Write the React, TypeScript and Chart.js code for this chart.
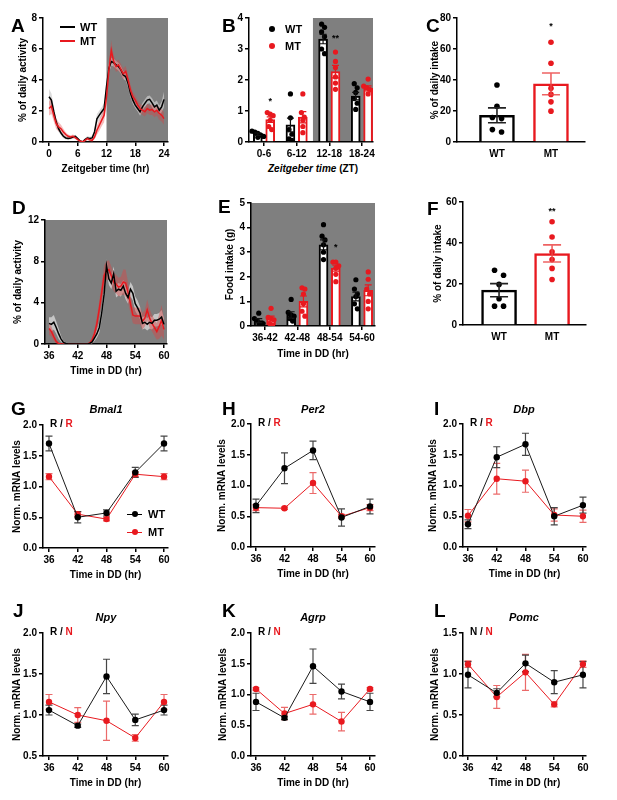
import React, { useEffect, useRef } from "react";
import { Chart, registerables } from "chart.js";
Chart.register(...registerables);

const FONT = "'Liberation Sans', Arial, Helvetica, sans-serif";
const RED = "#e8191f";
const BG = "#7f7f7f";

// ---------------- DATA ----------------
// Panel A: % of daily activity vs Zeitgeber time
const zt = [0,0.5,1,1.5,2,2.5,3,3.5,4,4.5,5,5.5,6,6.5,7,7.5,8,8.5,9,9.5,10,10.5,11,11.5,12,12.5,13,13.5,14,14.5,15,15.5,16,16.5,17,17.5,18,18.5,19,19.5,20,20.5,21,21.5,22,22.5,23,23.5,24];
const actWT = [2.92,2.7,1.95,1.3,0.86,0.58,0.37,0.26,0.22,0.26,0.32,0.37,0.22,0.06,0,0.15,0.26,0.22,0.26,0.65,1.5,1.73,1.95,2.16,3.57,4.76,5.19,5.12,4.97,4.86,4.65,4.32,4.22,3.78,3.14,2.7,2.38,2.16,1.95,2.27,2.49,2.7,2.75,2.53,2.27,2.38,2.05,2.27,2.75];
const actWTsem = [0.5,0.45,0.35,0.25,0.2,0.15,0.12,0.1,0.1,0.1,0.1,0.1,0.1,0.08,0.08,0.1,0.12,0.12,0.15,0.2,0.3,0.3,0.3,0.35,0.45,0.35,0.25,0.25,0.25,0.25,0.25,0.25,0.25,0.25,0.25,0.25,0.2,0.2,0.25,0.25,0.25,0.25,0.25,0.3,0.3,0.3,0.3,0.35,0.5];
const actMT = [2.16,2.31,1.73,1.19,0.97,0.86,0.65,0.48,0.37,0.32,0.37,0.28,0.15,0.06,0,0.1,0.22,0.15,0.1,0.32,0.76,1.08,1.41,1.73,2.92,4.65,5.9,5.19,4.86,4.97,4.69,4.4,4.55,4.0,3.35,2.92,2.7,2.38,2.16,2.05,1.95,2.16,2.05,2.1,1.95,2.05,1.84,1.73,1.51];
const actMTsem = [0.45,0.5,0.4,0.35,0.3,0.25,0.2,0.15,0.12,0.12,0.12,0.1,0.08,0.05,0.05,0.08,0.1,0.1,0.1,0.15,0.3,0.35,0.4,0.45,0.5,0.6,0.65,0.4,0.35,0.35,0.35,0.35,0.35,0.35,0.35,0.3,0.3,0.3,0.3,0.3,0.3,0.3,0.3,0.35,0.35,0.35,0.4,0.4,0.4];

// Panel B: binned activity
const ztBins = ["0-6", "6-12", "12-18", "18-24"];
const binWT = [0.25, 0.55, 3.32, 1.48];
const binWTsem = [0.04, 0.22, 0.15, 0.12];
const binMT = [0.72, 0.8, 2.27, 1.73];
const binMTsem = [0.09, 0.18, 0.2, 0.08];
const binWTdots = [[0.35,0.32,0.28,0.22,0.18,0.15],[1.55,0.78,0.4,0.25,0.1,0.05],[3.8,3.7,3.55,3.4,3.0,2.85],[1.88,1.75,1.6,1.4,1.25,1.05]];
const binMTdots = [[0.95,0.9,0.85,0.7,0.5,0.4],[1.55,0.95,0.8,0.7,0.5,0.3],[2.9,2.6,2.4,2.1,1.9,1.7],[2.03,1.8,1.75,1.7,1.65,1.55]];
const binStars = [{ bin: 0, y: 1.3, t: "*" }, { bin: 2, y: 3.35, t: "**" }];

// Panels C & F: % of daily intake
const groups = ["WT", "MT"];
const cMean = [17.2, 37.5];
const cSem = [4.8, 7.0];
const cDots = [[36.8,23.1,15.1,15.8,6.5,8.0],[64.4,50.8,34.6,30.7,25.9,19.9]];
const cStar = { y: 74.6, t: "*" };
const fMean = [17.0, 34.9];
const fSem = [3.2, 4.2];
const fDots = [[24.3,26.7,19.8,12.8,9.2,9.2],[50.4,42.9,35.7,31.9,27.6,22.2]];
const fStar = { y: 55.6, t: "**" };

// Panel D: activity in DD
const dd = [36,36.5,37,37.5,38,38.5,39,39.5,40,40.5,41,41.5,42,42.5,43,43.5,44,44.5,45,45.5,46,46.5,47,47.5,48,48.5,49,49.5,50,50.5,51,51.5,52,52.5,53,53.5,54,54.5,55,55.5,56,56.5,57,57.5,58,58.5,59,59.5,60];
const ddWT = [2.0,1.9,2.1,1.6,1.0,0.5,0.15,0.05,0,0,0,0,0,0,0,0,0,0.05,0.2,0.6,1.0,1.6,3.0,4.8,7.6,6.3,5.9,6.8,5.1,5.3,5.2,5.6,4.9,4.5,5.3,4.9,3.9,3.5,3.0,2.0,2.1,1.9,2.1,2.0,2.3,2.3,2.4,2.6,1.9];
const ddWTsem = [0.6,0.7,0.7,0.6,0.5,0.3,0.15,0.05,0,0,0,0,0,0,0,0,0,0.05,0.15,0.3,0.4,0.5,0.6,0.7,0.6,0.6,0.6,0.7,0.6,0.6,0.6,0.6,0.6,0.6,0.7,0.7,0.7,0.7,0.6,0.6,0.6,0.6,0.6,0.6,0.6,0.6,0.6,0.7,0.6];
const ddMT = [1.5,1.2,0.7,0.25,0.05,0,0,0,0,0,0,0,0,0,0,0,0,0.1,0.4,1.0,2.0,3.4,5.0,6.6,7.1,7.2,6.6,6.0,5.8,5.5,5.6,6.0,5.9,5.0,3.9,2.8,2.7,2.7,2.7,2.2,2.5,3.3,2.5,2.0,1.6,1.2,1.7,2.3,1.4];
const ddMTsem = [0.6,0.5,0.4,0.2,0.05,0,0,0,0,0,0,0,0,0,0,0,0,0.1,0.3,0.5,0.7,0.8,0.9,1.0,0.9,0.9,0.9,0.9,0.9,0.9,0.9,1.2,1.3,1.0,0.9,0.8,0.8,0.8,0.8,0.8,0.8,1.0,0.9,0.8,0.8,0.8,1.2,1.5,1.0];

// Panel E: food intake in DD
const ddBins = ["36-42", "42-48", "48-54", "54-60"];
const foodWT = [0.22, 0.45, 3.3, 1.2];
const foodWTsem = [0.08, 0.13, 0.2, 0.18];
const foodMT = [0.3, 1.0, 2.35, 1.45];
const foodMTsem = [0.1, 0.22, 0.12, 0.22];
const foodWTdots = [[0.52,0.3,0.2,0.1,0.1,0.05],[1.08,0.55,0.45,0.4,0.3,0.2],[4.12,3.65,3.5,3.3,3.0,2.7],[1.88,1.5,1.3,1.2,0.9,0.7]];
const foodMTdots = [[0.72,0.35,0.3,0.25,0.1,0.05],[1.55,1.5,1.3,0.9,0.6,0.4],[2.6,2.6,2.45,2.35,2.1,1.8],[2.2,1.9,1.5,1.3,1.0,0.7]];
const foodStars = [{ bin: 2, y: 3.18, t: "*" }];

// Panels G-L: mRNA levels
const hrs = [36, 42, 48, 54, 60];
const bmalWT = [1.7, 0.5, 0.57, 1.23, 1.7];
const bmalWTse = [0.12, 0.09, 0.05, 0.08, 0.12];
const bmalMT = [1.16, 0.55, 0.47, 1.2, 1.16];
const bmalMTse = [0.05, 0.04, 0.03, 0.04, 0.05];
const per2WT = [0.67, 1.28, 1.57, 0.48, 0.66];
const per2WTse = [0.11, 0.25, 0.15, 0.14, 0.12];
const per2MT = [0.64, 0.63, 1.04, 0.5, 0.64];
const per2MTse = [0.05, 0.02, 0.17, 0.03, 0.05];
const dbpWT = [0.37, 1.46, 1.67, 0.5, 0.68];
const dbpWTse = [0.07, 0.17, 0.18, 0.14, 0.13];
const dbpMT = [0.51, 1.11, 1.07, 0.52, 0.5];
const dbpMTse = [0.1, 0.25, 0.18, 0.1, 0.1];
const npyWT = [1.06, 0.87, 1.47, 0.94, 1.06];
const npyWTse = [0.06, 0.02, 0.21, 0.07, 0.06];
const npyMT = [1.16, 1.0, 0.93, 0.72, 1.16];
const npyMTse = [0.09, 0.09, 0.24, 0.04, 0.09];
const agrpWT = [0.88, 0.62, 1.46, 1.05, 0.88];
const agrpWTse = [0.14, 0.03, 0.28, 0.12, 0.14];
const agrpMT = [1.09, 0.69, 0.84, 0.56, 1.09];
const agrpMTse = [0.02, 0.1, 0.16, 0.15, 0.02];
const pomcWT = [0.99, 0.77, 1.13, 0.9, 0.99];
const pomcWTse = [0.16, 0.05, 0.1, 0.14, 0.16];
const pomcMT = [1.12, 0.72, 1.02, 0.63, 1.12];
const pomcMTse = [0.04, 0.14, 0.22, 0.03, 0.04];

// ---------------- HELPERS ----------------
type Rect = { L: number; T: number; R: number; B: number };
const PT = 14;
const PR = 12;
const tickFont = { family: FONT, size: 10, weight: "bold" as const };
const titleFont = { family: FONT, size: 10, weight: "bold" as const };

function yScale(min: number, max: number, ticks: number[], title: string | null, yW: number, dec: number) {
  return {
    type: "linear", min, max, offset: false,
    grid: { display: true, drawOnChartArea: false, drawTicks: true, tickLength: 4, color: "#000", lineWidth: 1.5, tickWidth: 1.5 },
    border: { display: true, color: "#000", width: 1.5 },
    ticks: { color: "#000", font: tickFont, padding: 2, autoSkip: false, callback: (v: any) => Number(v).toFixed(dec) },
    afterBuildTicks: (s: any) => { s.ticks = ticks.map((v) => ({ value: v })); },
    afterFit: (s: any) => { s.width = yW; },
    title: title ? { display: true, text: title, color: "#000", font: titleFont, padding: { top: 0, bottom: 0 } } : { display: false },
  };
}

function xScale(min: number, max: number, ticks: number[], fmt: (v: number) => string, title: string | null, xH: number, drawTicks = true, pad = 2) {
  return {
    type: "linear", min, max, offset: false,
    grid: { display: true, drawOnChartArea: false, drawTicks, tickLength: 4, color: "#000", lineWidth: 1.5, tickWidth: 1.5, offset: false },
    border: { display: true, color: "#000", width: 1.5 },
    ticks: { color: "#000", font: tickFont, padding: pad, autoSkip: false, maxRotation: 0, minRotation: 0, callback: (v: any) => fmt(Number(v)) },
    afterBuildTicks: (s: any) => { s.ticks = ticks.map((v) => ({ value: v })); },
    afterFit: (s: any) => { s.height = xH; },
    title: title ? { display: true, text: title, color: "#000", font: titleFont, padding: { top: 0, bottom: 0 } } : { display: false },
  };
}

const bgPlugin = (from: number | null) => ({
  id: "bg",
  beforeDraw(chart: any) {
    const { ctx, chartArea: a, scales } = chart;
    const x0 = from == null ? a.left : scales.x.getPixelForValue(from);
    ctx.save();
    ctx.fillStyle = BG;
    ctx.fillRect(x0, a.top, a.right - x0, a.bottom - a.top);
    ctx.restore();
  },
});

type EB = { xs: number[]; m: number[]; s: number[]; color: string; cap: number; lw: number };
const errPlugin = (bars: EB[], hook: string) => ({
  id: "err",
  [hook](chart: any) {
    const { ctx, scales } = chart;
    const x = scales.x, y = scales.y;
    ctx.save();
    for (const b of bars) {
      ctx.strokeStyle = b.color;
      ctx.lineWidth = b.lw;
      b.xs.forEach((xv, i) => {
        const px = x.getPixelForValue(xv);
        const top = y.getPixelForValue(b.m[i] + b.s[i]);
        const bot = y.getPixelForValue(b.m[i] - b.s[i]);
        ctx.beginPath();
        ctx.moveTo(px, top); ctx.lineTo(px, bot);
        ctx.moveTo(px - b.cap, top); ctx.lineTo(px + b.cap, top);
        ctx.moveTo(px - b.cap, bot); ctx.lineTo(px + b.cap, bot);
        ctx.stroke();
      });
    }
    ctx.restore();
  },
});

const starPlugin = (stars: { x: number; y: number; t: string }[]) => ({
  id: "stars",
  afterDatasetsDraw(chart: any) {
    const { ctx, scales } = chart;
    ctx.save();
    ctx.fillStyle = "#000";
    ctx.font = `bold 9px ${FONT}`;
    ctx.textAlign = "center";
    ctx.textBaseline = "middle";
    stars.forEach((s) => ctx.fillText(s.t, scales.x.getPixelForValue(s.x), scales.y.getPixelForValue(s.y)));
    ctx.restore();
  },
});

function swarm(vals: number[], thr: number, step: number): number[] {
  const order = vals.map((_, i) => i).sort((a, b) => vals[b] - vals[a]);
  const off = vals.map(() => 0);
  let grp: number[] = [];
  const flush = () => {
    const n = grp.length;
    grp.forEach((id, k) => { off[id] = (k - (n - 1) / 2) * step; });
    grp = [];
  };
  for (const id of order) {
    if (grp.length && vals[grp[0]] - vals[id] > thr) flush();
    grp.push(id);
  }
  flush();
  return off;
}

function dotData(centers: number[], sets: number[][], thr: number, step: number) {
  const out: { x: number; y: number }[] = [];
  sets.forEach((g, i) => {
    const o = swarm(g, thr, step);
    g.forEach((v, k) => out.push({ x: centers[i] + o[k], y: v }));
  });
  return out;
}

function band(xs: number[], m: number[], s: number[], sign: number, fillColor: string | null, order: number) {
  return {
    type: "line",
    data: xs.map((x, i) => ({ x, y: m[i] + sign * s[i] })),
    borderWidth: 0, borderColor: "rgba(0,0,0,0)", pointRadius: 0,
    fill: fillColor ? "-1" : false, backgroundColor: fillColor || "rgba(0,0,0,0)", order,
  };
}
function trace(xs: number[], m: number[], color: string, order: number) {
  return { type: "line", data: xs.map((x, i) => ({ x, y: m[i] })), borderColor: color, borderWidth: 1.5, pointRadius: 0, fill: false, order };
}

function Panel({ r, yW, xH, make }: { r: Rect; yW: number; xH: number; make: (yW: number, xH: number) => any }) {
  const ref = useRef<HTMLCanvasElement | null>(null);
  const w = yW + (r.R - r.L) + PR;
  const h = PT + (r.B - r.T) + xH;
  useEffect(() => {
    if (!ref.current) return;
    const cfg = make(yW, xH);
    cfg.options = {
      ...(cfg.options || {}),
      animation: false, responsive: false, maintainAspectRatio: false,
      layout: { padding: { top: PT, right: PR, left: 0, bottom: 0 } },
      plugins: { legend: { display: false }, tooltip: { enabled: false }, title: { display: false } },
    };
    const chart = new Chart(ref.current, cfg);
    return () => chart.destroy();
  }, []);
  return <canvas ref={ref} width={w} height={h} style={{ position: "absolute", left: r.L - yW, top: r.T - PT, width: w, height: h }} />;
}

// ---------------- CHART BUILDERS ----------------
const OFF = 0.19;

function activityConfig(xs: number[], wt: number[], wtS: number[], mt: number[], mtS: number[], bgFrom: number | null,
  xr: [number, number], xt: number[], xTitle: string, yr: [number, number], yt: number[], wtBand: string, mtBand: string, redTop: boolean) {
  return (yW: number, xH: number) => ({
    type: "line",
    data: {
      datasets: [
        band(xs, wt, wtS, 1, null, 5), band(xs, wt, wtS, -1, wtBand, 5),
        band(xs, mt, mtS, 1, null, 4), band(xs, mt, mtS, -1, mtBand, 4),
        trace(xs, wt, "#000", redTop ? 1 : 0), trace(xs, mt, RED, redTop ? 0 : 1),
      ],
    },
    options: {
      scales: {
        x: xScale(xr[0], xr[1], xt, (v) => String(v), xTitle, xH),
        y: yScale(yr[0], yr[1], yt, "% of daily activity", yW, 0),
      },
    },
    plugins: [bgPlugin(bgFrom)],
  });
}

function binConfig(labels: string[], wt: number[], wtS: number[], mt: number[], mtS: number[], wtDots: number[][], mtDots: number[][],
  stars: { bin: number; y: number; t: string }[], bgFrom: number | null, xr: [number, number], yr: [number, number], yt: number[],
  yTitle: string | null, xTitle: string | null, thr: number) {
  return (yW: number, xH: number) => {
    const xs = labels.map((_, i) => i);
    const xw = xs.map((x) => x - OFF);
    const xm = xs.map((x) => x + OFF);
    return {
      type: "bar",
      data: {
        datasets: [
          { type: "scatter", data: dotData(xw, wtDots, thr, 0.09), pointRadius: 2.6, backgroundColor: "#000", pointBackgroundColor: "#000", pointBorderWidth: 0, order: 0 },
          { type: "scatter", data: dotData(xm, mtDots, thr, 0.09), pointRadius: 2.6, backgroundColor: RED, pointBackgroundColor: RED, pointBorderWidth: 0, order: 0 },
          { type: "bar", data: xw.map((x, i) => ({ x, y: wt[i] })), backgroundColor: "#fff", borderColor: "#000", borderWidth: 2, barThickness: 9, grouped: false, order: 1 },
          { type: "bar", data: xm.map((x, i) => ({ x, y: mt[i] })), backgroundColor: "#fff", borderColor: RED, borderWidth: 2, barThickness: 9, grouped: false, order: 1 },
        ],
      },
      options: {
        scales: {
          x: xScale(xr[0], xr[1], xs, (v) => labels[Math.round(v)] || "", xTitle, xH),
          y: yScale(yr[0], yr[1], yt, yTitle, yW, 0),
        },
      },
      plugins: [
        bgPlugin(bgFrom),
        errPlugin([
          { xs: xw, m: wt, s: wtS, color: "#111", cap: 3.5, lw: 1.2 },
          { xs: xm, m: mt, s: mtS, color: RED, cap: 3.5, lw: 1.2 },
        ], "afterDatasetsDraw"),
        starPlugin(stars.map((s) => ({ x: s.bin + OFF, y: s.y, t: s.t }))),
      ],
    };
  };
}

function intakeConfig(mean: number[], sem: number[], dots: number[][], star: { y: number; t: string }, xr: [number, number], yr: [number, number], yt: number[], thr: number) {
  return (yW: number, xH: number) => ({
    type: "bar",
    data: {
      datasets: [
        { type: "scatter", data: dotData([0], [dots[0]], thr, 0.17), pointRadius: 2.8, backgroundColor: "#000", pointBackgroundColor: "#000", pointBorderWidth: 0, order: 0 },
        { type: "scatter", data: dotData([1], [dots[1]], thr, 0.17), pointRadius: 2.8, backgroundColor: RED, pointBackgroundColor: RED, pointBorderWidth: 0, order: 0 },
        { type: "bar", data: [{ x: 0, y: mean[0] }], backgroundColor: "#fff", borderColor: "#000", borderWidth: 2.5, barThickness: 35, grouped: false, order: 1 },
        { type: "bar", data: [{ x: 1, y: mean[1] }], backgroundColor: "#fff", borderColor: RED, borderWidth: 2.5, barThickness: 35, grouped: false, order: 1 },
      ],
    },
    options: {
      scales: {
        x: xScale(xr[0], xr[1], [0, 1], (v) => groups[Math.round(v)] || "", null, xH, false, 6),
        y: yScale(yr[0], yr[1], yt, "% of daily intake", yW, 0),
      },
    },
    plugins: [
      errPlugin([
        { xs: [0], m: [mean[0]], s: [sem[0]], color: "#222", cap: 9, lw: 1.6 },
        { xs: [1], m: [mean[1]], s: [sem[1]], color: "rgba(235,70,70,0.85)", cap: 9, lw: 1.6 },
      ], "afterDatasetsDraw"),
      starPlugin([{ x: 1, y: star.y, t: star.t }]),
    ],
  });
}

function geneConfig(wt: number[], wtS: number[], mt: number[], mtS: number[], xr: [number, number], yr: [number, number], yt: number[]) {
  return (yW: number, xH: number) => ({
    type: "line",
    data: {
      datasets: [
        { data: hrs.map((h, i) => ({ x: h, y: wt[i] })), borderColor: "#1a1a1a", borderWidth: 1, pointRadius: 3.2, pointBackgroundColor: "#000", pointBorderWidth: 0, fill: false, order: 0 },
        { data: hrs.map((h, i) => ({ x: h, y: mt[i] })), borderColor: RED, borderWidth: 1, pointRadius: 3.2, pointBackgroundColor: RED, pointBorderWidth: 0, fill: false, order: 1 },
      ],
    },
    options: {
      scales: {
        x: xScale(xr[0], xr[1], hrs, (v) => String(v), "Time in DD (hr)", xH),
        y: yScale(yr[0], yr[1], yt, "Norm. mRNA levels", yW, 1),
      },
    },
    plugins: [
      errPlugin([
        { xs: hrs, m: mt, s: mtS, color: "rgba(232,80,80,0.85)", cap: 3.5, lw: 1.2 },
        { xs: hrs, m: wt, s: wtS, color: "rgba(60,60,60,0.95)", cap: 3.5, lw: 1.2 },
      ], "beforeDatasetsDraw"),
    ],
  });
}

// ---------------- LAYOUT ----------------
const rA: Rect = { L: 43, T: 18, R: 168, B: 142 };
const rB: Rect = { L: 249, T: 18, R: 373, B: 142 };
const rC: Rect = { L: 457, T: 18, R: 585, B: 142 };
const rD: Rect = { L: 45, T: 220, R: 167, B: 344 };
const rE: Rect = { L: 251, T: 203, R: 375, B: 326 };
const rF: Rect = { L: 463, T: 202, R: 586, B: 325 };
const rG: Rect = { L: 43, T: 425, R: 168, B: 548 };
const rH: Rect = { L: 251, T: 424, R: 375, B: 547 };
const rI: Rect = { L: 463, T: 424, R: 586, B: 547 };
const rJ: Rect = { L: 43, T: 633, R: 168, B: 756 };
const rK: Rect = { L: 251, T: 633, R: 375, B: 756 };
const rL: Rect = { L: 463, T: 633, R: 586, B: 756 };

const txtBase: React.CSSProperties = { position: "absolute", whiteSpace: "nowrap", lineHeight: 1, fontWeight: 700, fontFamily: FONT, color: "#000" };

function TL({ x, y, size = 10, children, style }: { x: number; y: number; size?: number; children: React.ReactNode; style?: React.CSSProperties }) {
  return <div style={{ ...txtBase, left: x, top: y, fontSize: size, transform: "translate(0,-50%)", ...style }}>{children}</div>;
}
function TC({ x, y, size = 10, children, style }: { x: number; y: number; size?: number; children: React.ReactNode; style?: React.CSSProperties }) {
  return <div style={{ ...txtBase, left: x, top: y, fontSize: size, transform: "translate(-50%,-50%)", ...style }}>{children}</div>;
}

function LegItem({ x, y, color, label, line, dot, len, gap }: { x: number; y: number; color: string; label: string; line: boolean; dot: boolean; len: number; gap: number }) {
  return (
    <>
      {line && <div style={{ position: "absolute", left: x, top: y - (dot ? 0.5 : 1), width: len, height: dot ? 1 : 2, background: color }} />}
      {dot && <div style={{ position: "absolute", left: x + len / 2 - 3, top: y - 3, width: 6, height: 6, borderRadius: 3, background: color }} />}
      <TL x={x + len + gap} y={y} size={11}>{label}</TL>
    </>
  );
}

function RN({ r, a, b }: { r: Rect; a: string; b: string }) {
  return <TL x={r.L + 7} y={r.T - 1} size={10}>{a} / <span style={{ color: RED }}>{b}</span></TL>;
}

export default function App() {
  return (
    <div style={{ position: "absolute", left: 0, top: 0, width: 617, height: 800, background: "#fff", overflow: "hidden", fontFamily: FONT }}>
      <Panel r={rA} yW={26} xH={33} make={activityConfig(zt, actWT, actWTsem, actMT, actMTsem, 12, [-1.25, 24.83], [0, 6, 12, 18, 24], "Zeitgeber time (hr)", [0, 8], [0, 2, 4, 6, 8], "rgba(205,205,205,0.7)", "rgba(225,60,60,0.35)", true)} />
      <Panel r={rB} yW={25} xH={20} make={binConfig(ztBins, binWT, binWTsem, binMT, binMTsem, binWTdots, binMTdots, binStars, 1.5, [-0.46, 3.34], [0, 4], [0, 1, 2, 3, 4], null, null, 0.18)} />
      <Panel r={rC} yW={28} xH={20} make={intakeConfig(cMean, cSem, cDots, cStar, [-0.74, 1.63], [0, 80], [0, 20, 40, 60, 80], 3.5)} />
      <Panel r={rD} yW={33} xH={33} make={activityConfig(dd, ddWT, ddWTsem, ddMT, ddMTsem, null, [35.16, 60.63], [36, 42, 48, 54, 60], "Time in DD (hr)", [0, 12], [0, 4, 8, 12], "rgba(220,220,220,0.75)", "rgba(215,70,70,0.45)", false)} />
      <Panel r={rE} yW={27} xH={34} make={binConfig(ddBins, foodWT, foodWTsem, foodMT, foodMTsem, foodWTdots, foodMTdots, foodStars, null, [-0.43, 3.4], [0, 5], [0, 1, 2, 3, 4, 5], "Food intake (g)", "Time in DD (hr)", 0.22)} />
      <Panel r={rF} yW={31} xH={20} make={intakeConfig(fMean, fSem, fDots, fStar, [-0.68, 1.64], [0, 60], [0, 20, 40, 60], 2.7)} />
      <Panel r={rG} yW={32} xH={33} make={geneConfig(bmalWT, bmalWTse, bmalMT, bmalMTse, [34.75, 60.83], [0, 2], [0, 0.5, 1, 1.5, 2])} />
      <Panel r={rH} yW={35} xH={33} make={geneConfig(per2WT, per2WTse, per2MT, per2MTse, [34.95, 61.05], [0, 2], [0, 0.5, 1, 1.5, 2])} />
      <Panel r={rI} yW={36} xH={33} make={geneConfig(dbpWT, dbpWTse, dbpMT, dbpMTse, [34.96, 60.63], [0, 2], [0, 0.5, 1, 1.5, 2])} />
      <Panel r={rJ} yW={32} xH={33} make={geneConfig(npyWT, npyWTse, npyMT, npyMTse, [34.75, 60.83], [0.5, 2], [0.5, 1, 1.5, 2])} />
      <Panel r={rK} yW={34} xH={33} make={geneConfig(agrpWT, agrpWTse, agrpMT, agrpMTse, [34.95, 61.05], [0, 2], [0, 0.5, 1, 1.5, 2])} />
      <Panel r={rL} yW={34} xH={33} make={geneConfig(pomcWT, pomcWTse, pomcMT, pomcMTse, [34.96, 60.63], [0, 1.5], [0, 0.5, 1, 1.5])} />

      {/* panel letters */}
      <TL x={11} y={25} size={19}>A</TL>
      <TL x={222} y={25} size={19}>B</TL>
      <TL x={426} y={25} size={19}>C</TL>
      <TL x={12} y={207} size={19}>D</TL>
      <TL x={218} y={206} size={19}>E</TL>
      <TL x={427} y={208} size={19}>F</TL>
      <TL x={11} y={408} size={19}>G</TL>
      <TL x={222} y={408} size={19}>H</TL>
      <TL x={434} y={408} size={19}>I</TL>
      <TL x={13} y={610} size={19}>J</TL>
      <TL x={222} y={610} size={19}>K</TL>
      <TL x={434} y={610} size={19}>L</TL>

      {/* legends */}
      <LegItem x={60} y={27} color="#000" label="WT" line dot={false} len={15} gap={5} />
      <LegItem x={60} y={41} color={RED} label="MT" line dot={false} len={15} gap={5} />
      <LegItem x={269} y={29} color="#000" label="WT" line={false} dot len={6} gap={10} />
      <LegItem x={269} y={46} color={RED} label="MT" line={false} dot len={6} gap={10} />
      <LegItem x={127} y={514} color="#000" label="WT" line dot len={15} gap={6} />
      <LegItem x={127} y={532} color={RED} label="MT" line dot len={15} gap={6} />

      {/* B x title */}
      <TC x={313} y={169} size={10}><span style={{ fontStyle: "italic" }}>Zeitgeber time</span> (ZT)</TC>

      {/* gene titles */}
      <TC x={106} y={409} size={11} style={{ fontStyle: "italic" }}>Bmal1</TC>
      <TC x={313} y={409} size={11} style={{ fontStyle: "italic" }}>Per2</TC>
      <TC x={524} y={409} size={11} style={{ fontStyle: "italic" }}>Dbp</TC>
      <TC x={106} y={617} size={11} style={{ fontStyle: "italic" }}>Npy</TC>
      <TC x={313} y={617} size={11} style={{ fontStyle: "italic" }}>Agrp</TC>
      <TC x={524} y={617} size={11} style={{ fontStyle: "italic" }}>Pomc</TC>

      <RN r={rG} a="R" b="R" />
      <RN r={rH} a="R" b="R" />
      <RN r={rI} a="R" b="R" />
      <RN r={rJ} a="R" b="N" />
      <RN r={rK} a="R" b="N" />
      <RN r={rL} a="N" b="N" />
    </div>
  );
}
